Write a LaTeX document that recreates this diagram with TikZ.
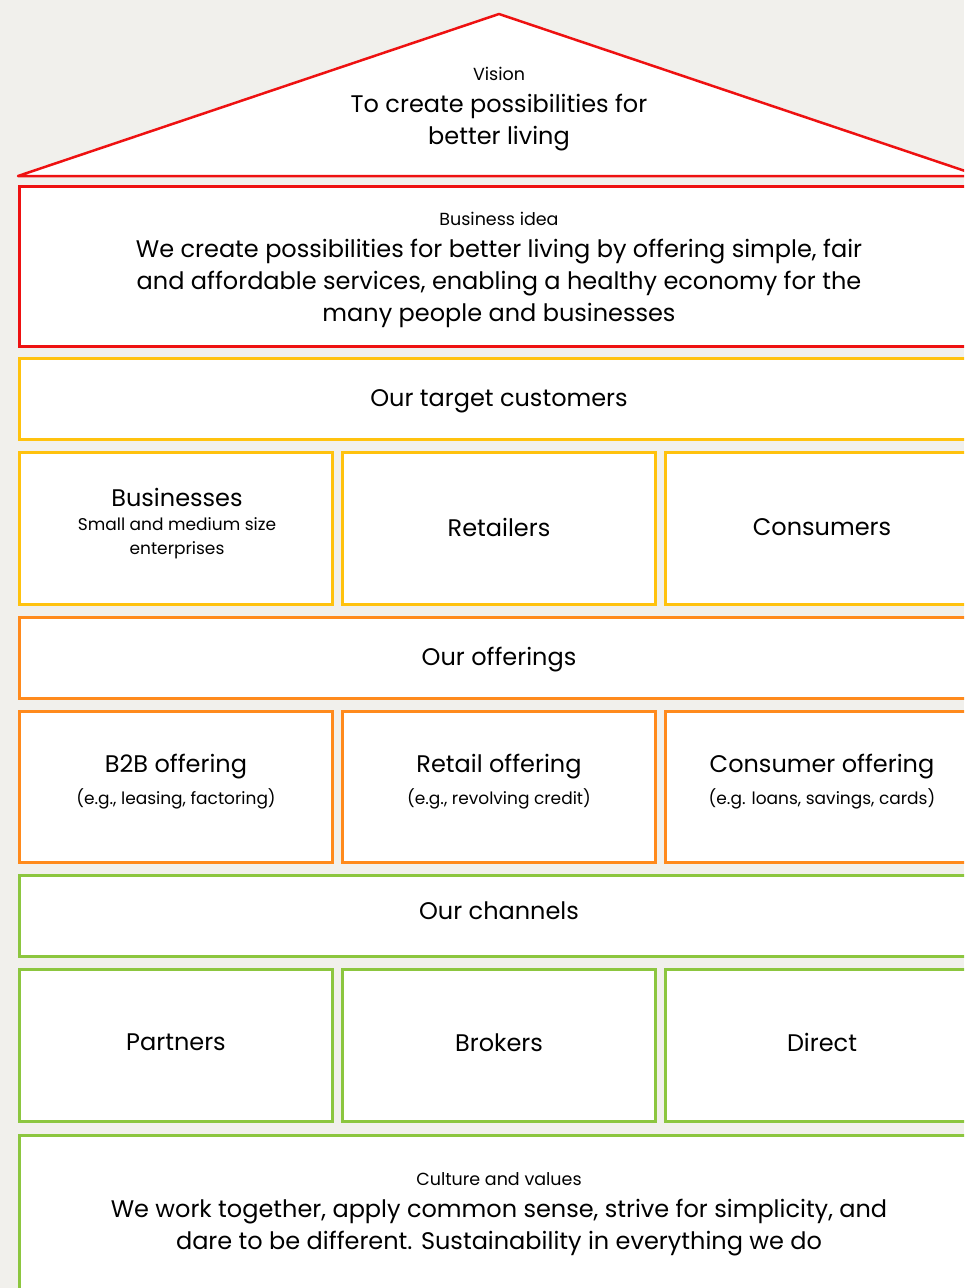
\documentclass[tikz,border=0pt]{standalone}
\usepackage{fontspec}
\setmainfont{Poppins}
\usepackage{tikz}
\usetikzlibrary{arrows,shapes}
\definecolor{paper}{HTML}{F1F0EC}
\definecolor{roofred}{HTML}{EE1111}
\definecolor{custyellow}{HTML}{FFC20E}
\definecolor{offerorange}{HTML}{FF8A1C}
\definecolor{chgreen}{HTML}{8CC63F}
\tikzstyle{band}=[draw, fill=white, line width=3pt, inner sep=0pt]
\tikzstyle{wide band}=[band, minimum width=959pt, minimum height=81pt]
\tikzstyle{cell}=[band, minimum width=313pt, minimum height=152pt]
\tikzstyle{note} = [draw=none, align=center, text=black, inner sep=0pt, font=\bigtext]
\newcommand{\bigtext}{\fontsize{24}{32}\selectfont}
\newcommand{\tagtext}{\fontsize{17.5}{22}\selectfont}
\newcommand{\subtext}{\fontsize{17}{24}\selectfont}

\begin{document}
\begin{tikzpicture}[x=1pt, y=-1pt]
		\fill[paper] (0,0) rectangle (964,1288);
		\useasboundingbox (0,0) rectangle (964,1288);
		\clip (0,0) rectangle (964,1288);
		
		% First the roof with the vision
		\coordinate (eaveL) at (18,176);
		\coordinate (apex) at (499,14);
		\coordinate (eaveR) at (980,176);
		\path[draw=roofred, fill=white, line width=2.5pt, line join=round] (eaveL) -- (apex) -- (eaveR) -- cycle;
		\node[note] (vision) at (499,109) {\tagtext Vision\\ \bigtext To create possibilities for\\ better living};
		
		% Full width bands
		\foreach \y/\h/\col/\label in {
			266.5/160/roofred/idea, 399/81/custyellow/target, 658/81/offerorange/offer,
			916/81/chgreen/channel, 1250/230/chgreen/culture}
		\node[wide band, draw=\col, minimum height=\h pt] (\label) at (499,\y) {};
		
		\node[note] (ideatext) at (499,270)
			{\tagtext Business idea\\ \bigtext We create possibilities for better living by offering simple, fair\\ and affordable services, enabling a healthy economy for the\\ many people and businesses};
		\node[note] (valuestext) at (499,1214)
			{\tagtext Culture and values\\ \bigtext We work together, apply common sense, strive for simplicity, and\\ dare to be different. Sustainability in everything we do};
		\foreach \y/\label/\name in {
			401/targettext/Our target customers, 660/offertext/Our offerings, 911/channeltext/Our channels}
		\node[note] (\label) at (499,\y) {\name};
		
		% Then the three columns of each row
		\foreach \x/\label in {176/biz, 499/retail, 822/consumer}
		\node[cell, draw=custyellow] (\label) at (\x,528.5) {};
		\foreach \x/\label in {176/btob, 499/retailoffer, 822/consumeroffer}
		\node[cell, draw=offerorange, minimum height=151pt] (\label) at (\x,787) {};
		\foreach \x/\label in {176/partners, 499/brokers, 822/direct}
		\node[cell, draw=chgreen] (\label) at (\x,1045.5) {};
		
		% Texts of the columns
		\node[note] (biztext) at (177,524)
			{Businesses\\[-8pt] \subtext Small and medium size\\[-8pt] \subtext enterprises};
		\foreach \x/\label/\name in {499/retailtext/Retailers, 822/consumertext/Consumers}
		\node[note] (\label) at (\x,527) {\name};
		
		\foreach \x/\label/\name/\extra in {
			176/btobtext/B2B offering/{(e.g., leasing, factoring)},
			499/retailoffertext/Retail offering/{(e.g., revolving credit)},
			822/consumeroffertext/Consumer offering/{(e.g. loans, savings, cards)}}
		\node[note] (\label) at (\x,782) {\name\\ \subtext\extra};
		
		\foreach \x/\label/\name in {176/partnerstext/Partners, 499/brokerstext/Brokers, 822/directtext/Direct}
		\node[note] (\label) at (\x,1042.5) {\name};
		\end{tikzpicture}
\end{document}
